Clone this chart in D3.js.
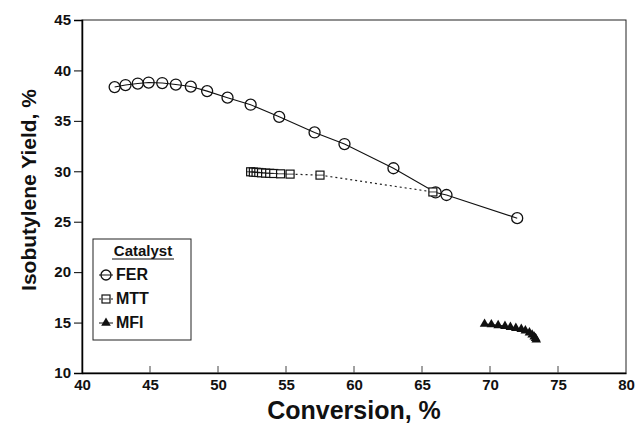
<!DOCTYPE html>
<html>
<head>
<meta charset="utf-8">
<script src="https://cdn.jsdelivr.net/npm/d3@7"></script>
<style>
  body { margin: 0; background: #fff; }
  text { font-family: "Liberation Sans", Arial, sans-serif; font-weight: bold; fill: #111; }
</style>
</head>
<body>
<svg id="canvas" width="636" height="430"></svg>
<script>
// FER
let ferX = [42.4, 43.2, 44.1, 44.9, 45.9, 46.9, 48.0, 49.2, 50.7, 52.4, 54.5, 57.1, 59.3, 62.9, 66.0, 66.8, 72.0]
let ferY = [38.35, 38.55, 38.7, 38.8, 38.75, 38.6, 38.4, 37.95, 37.3, 36.6, 35.4, 33.85, 32.7, 30.3, 27.9, 27.65, 25.35]
// MTT
let mttX = [52.4, 52.6, 52.8, 53.0, 53.2, 53.5, 53.8, 54.1, 54.6, 55.3, 57.5, 65.8]
let mttY = [29.95, 29.92, 29.9, 29.88, 29.85, 29.82, 29.8, 29.78, 29.75, 29.72, 29.62, 27.95]
// MFI
let mfiX = [69.6, 70.1, 70.6, 71.1, 71.5, 71.9, 72.3, 72.6, 72.9, 73.1, 73.25, 73.35, 73.4]
let mfiY = [14.85, 14.8, 14.72, 14.65, 14.55, 14.45, 14.35, 14.2, 14.0, 13.8, 13.6, 13.45, 13.3]

let xTicks = [40, 45, 50, 55, 60, 65, 70, 75, 80]
let yTicks = [10, 15, 20, 25, 30, 35, 40, 45]

let svg = d3.select('#canvas')
let x = d3.scaleLinear().domain([40, 80]).range([82, 626])
let y = d3.scaleLinear().domain([10, 45]).range([373, 20])

let zip = (xs, ys) => xs.map((v, i) => [v, ys[i]])
let fer = zip(ferX, ferY), mtt = zip(mttX, mttY), mfi = zip(mfiX, mfiY)

// frame
svg.append('rect').attr('x', 82).attr('y', 20).attr('width', 544).attr('height', 353)
  .attr('fill', 'none').attr('stroke', '#222').attr('stroke-width', 1)

// y axis: outward ticks
let yAxis = d3.axisLeft(y).tickValues(yTicks).tickSize(8).tickPadding(3)
let gy = svg.append('g').attr('transform', 'translate(82,0)').call(yAxis)
gy.select('.domain').attr('stroke-width', 1.5)
gy.selectAll('text').style('font-size', '15px')

// x axis: inward ticks
let xAxis = d3.axisBottom(x).tickValues(xTicks).tickSize(0).tickPadding(6)
let gx = svg.append('g').attr('transform', 'translate(0,373)').call(xAxis)
gx.select('.domain').attr('stroke-width', 1.5)
gx.selectAll('text').style('font-size', '15px')
svg.selectAll('.xt').data(xTicks.slice(1, -1)).enter().append('line')
  .attr('x1', d => x(d)).attr('x2', d => x(d)).attr('y1', 373).attr('y2', 366)
  .attr('stroke', '#444').attr('stroke-width', 1)

let line = d3.line().x(d => x(d[0])).y(d => y(d[1]))

svg.append('path').attr('d', line(mtt)).attr('fill', 'none')
  .attr('stroke', '#222').attr('stroke-width', 1.2).attr('stroke-dasharray', '2,3')
svg.append('path').attr('d', line(fer)).attr('fill', 'none')
  .attr('stroke', '#111').attr('stroke-width', 1.1)
svg.append('path').attr('d', line(mfi)).attr('fill', 'none')
  .attr('stroke', '#111').attr('stroke-width', 1.2)

svg.selectAll('.fer').data(fer).enter().append('circle')
  .attr('cx', d => x(d[0])).attr('cy', d => y(d[1])).attr('r', 5.5)
  .attr('fill', 'white').attr('fill-opacity', 0).attr('stroke', '#111').attr('stroke-width', 1.3)

svg.selectAll('.mtt').data(mtt).enter().append('rect')
  .attr('x', d => x(d[0]) - 4).attr('y', d => y(d[1]) - 4).attr('width', 8).attr('height', 8)
  .attr('fill', 'white').attr('stroke', '#111').attr('stroke-width', 1.2)
svg.selectAll('.mttc').data(mtt).enter().append('line')
  .attr('x1', d => x(d[0]) - 4).attr('x2', d => x(d[0]) + 4)
  .attr('y1', d => y(d[1])).attr('y2', d => y(d[1]))
  .attr('stroke', '#111').attr('stroke-width', 0.8)

let tri = d3.symbol().type(d3.symbolTriangle).size(40)
svg.selectAll('.mfi').data(mfi).enter().append('path')
  .attr('d', tri).attr('transform', d => `translate(${x(d[0])},${y(d[1])})`)
  .attr('fill', '#111')

// axis titles
svg.append('text').attr('x', 354).attr('y', 419).attr('text-anchor', 'middle')
  .style('font-size', '25px').text('Conversion, %')
svg.append('text').attr('transform', 'translate(36,190) rotate(-90)').attr('text-anchor', 'middle')
  .style('font-size', '21px').text('Isobutylene Yield, %')

// legend
let lg = svg.append('g')
lg.append('rect').attr('x', 93).attr('y', 239).attr('width', 98).attr('height', 101)
  .attr('fill', 'white').attr('stroke', '#222').attr('stroke-width', 1)
lg.append('text').attr('x', 143).attr('y', 256).attr('text-anchor', 'middle')
  .style('font-size', '15px').text('Catalyst')
lg.append('line').attr('x1', 112).attr('x2', 174).attr('y1', 259).attr('y2', 259)
  .attr('stroke', '#111').attr('stroke-width', 1.2)

let names = ['FER', 'MTT', 'MFI']
let rows = [280, 304, 328]
names.forEach((n, i) => {
  let cy = rows[i] - 5
  lg.append('line').attr('x1', 99).attr('x2', 113).attr('y1', cy).attr('y2', cy)
    .attr('stroke', '#111').attr('stroke-width', 1).attr('stroke-dasharray', i === 1 ? '2,2' : null)
  if (i === 0) {
    lg.append('circle').attr('cx', 106).attr('cy', cy).attr('r', 5)
      .attr('fill', 'none').attr('stroke', '#111').attr('stroke-width', 1.3)
  } else if (i === 1) {
    lg.append('rect').attr('x', 102).attr('y', cy - 4).attr('width', 8).attr('height', 8)
      .attr('fill', 'white').attr('stroke', '#111').attr('stroke-width', 1.2)
    lg.append('line').attr('x1', 102).attr('x2', 110).attr('y1', cy).attr('y2', cy)
      .attr('stroke', '#111').attr('stroke-width', 0.8)
  } else {
    lg.append('path').attr('d', tri).attr('transform', `translate(106,${cy})`).attr('fill', '#111')
  }
  lg.append('text').attr('x', 116).attr('y', rows[i]).style('font-size', '16px').text(n)
})
</script>
</body>
</html>
